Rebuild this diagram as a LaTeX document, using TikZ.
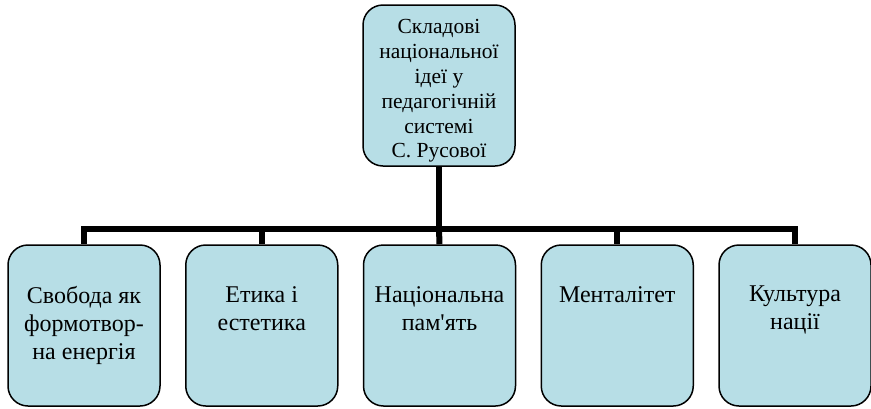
\documentclass[tikz,border=0pt]{standalone}
\usepackage{fontspec}
\setmainfont{Liberation Serif}
\newfontfamily\cardfont{Liberation Serif}
\definecolor{boxfill}{RGB}{183,222,230}
\newcommand{\topfont}{\cardfont\fontsize{21.5}{24.8}\selectfont}
\newcommand{\botfont}{\cardfont\fontsize{24}{28}\selectfont}

\begin{document}
\begin{tikzpicture}[x=1pt,y=-1pt,
    card/.style={draw=black,line width=1.5pt,fill=boxfill,rounded corners=20pt,
                 minimum width=152pt,minimum height=161pt,inner sep=0pt},
    txt/.style={align=center,inner sep=0pt,anchor=north},
    bus/.style={line width=6pt}]
   \useasboundingbox (0,0) rectangle (871,408);
   % top box
   \node[card] (top) at (439,85.5) {};
   \node[txt,anchor=center,font=\topfont] (toptxt) at (439,91)
     {Складові\\національної\\ідеї у\\педагогічній\\системі\\С. Русової};
   % bottom boxes
   \node[card] (b1) at (84,325.5) {};
   \node[card] (b2) at (261.75,325.5) {};
   \node[card] (b3) at (439.5,325.5) {};
   \node[card] (b4) at (617.25,325.5) {};
   \node[card] (b5) at (795,325.5) {};
   \node[txt,font=\botfont] (t1) at (84,286) {Свобода як\\формотвор-\\на енергія};
   \node[txt,font=\botfont] (t2) at (261.75,286) {Етика і\\естетика};
   \node[txt,font=\botfont] (t3) at (439.5,286) {Національна\\пам\textquotesingle ять};
   \node[txt,font=\botfont] (t4) at (617.25,286) {Менталітет};
   \node[txt,font=\botfont] (t5) at (795,286) {Культура\\нації};
   % connectors
   \coordinate (hub) at (439,229);
   \draw[bus] (top.south) -- (hub);
   \draw[bus] (hub) -| (b1.north);
   \draw[bus] (hub) -| (b2.north);
   \draw[bus] (hub) -- (b3.north);
   \draw[bus] (hub) -| (b4.north);
   \draw[bus] (hub) -| (b5.north);
\end{tikzpicture}
\end{document}
